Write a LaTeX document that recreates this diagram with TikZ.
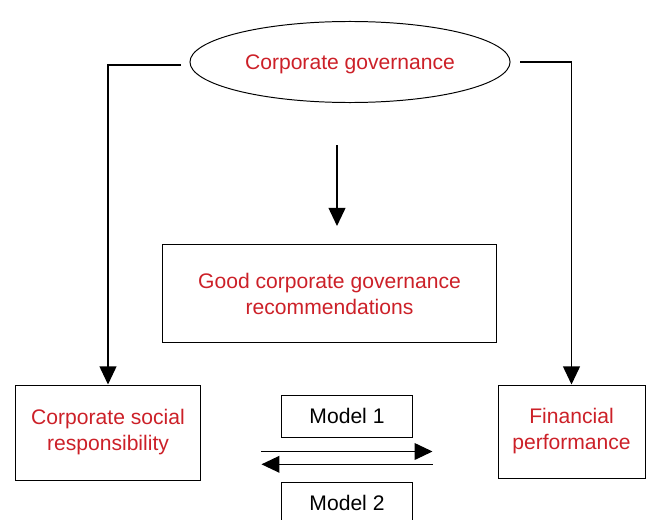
\documentclass[tikz,border=0pt]{standalone}
\usepackage{fontspec}
\setmainfont{Liberation Sans}
\usetikzlibrary{arrows.meta,shapes.geometric}
\definecolor{govred}{RGB}{204,32,40}
\tikzset{
  label/.style={text=govred, font=\fontsize{15}{18.5}\selectfont, align=center},
  box/.style={draw, line width=0.7pt, label},
  arr/.style={line width=0.9pt, -{Triangle[length=0.45cm, width=0.42cm]}}
}
\begin{document}
\begin{tikzpicture}[x=0.025cm, y=-0.025cm]
\useasboundingbox (0,0) rectangle (648,519);
\clip (0,0) rectangle (648,519);
\node[ellipse, box, minimum width=8cm, minimum height=2.025cm] (gov) at (350,62) {\raisebox{-2pt}[\height][\depth]{Corporate governance}};
\node[box, minimum width=8.325cm, minimum height=2.425cm] (rec) at (329.5,293.5) {Good corporate governance\\recommendations};
\node[box, minimum width=4.6cm, minimum height=2.375cm] (csr) at (108,432.5) {Corporate social\\responsibility};
\node[box, minimum width=3.675cm, minimum height=2.325cm] (fin) at (571.5,431.5) {Financial\\performance};
\node[box, text=black, minimum width=3.25cm, minimum height=1.05cm] (m1) at (347,416) {Model 1};
\node[box, text=black, minimum width=3.25cm, minimum height=1.05cm] (m2) at (347,503) {Model 2};
\coordinate (gl) at (181,65);
\coordinate (gr) at (520,62);
\coordinate (down1) at (337,145);
\coordinate (down2) at (337,226);
\draw[arr] (gl) -| (csr.north);
\draw[arr] (gr) -| (fin.north);
\draw[arr] (down1) -- (down2);
\draw[arr] ([xshift=-0.5cm, yshift=-0.35cm]m1.south west) -- ([xshift=0.5cm, yshift=-0.35cm]m1.south east);
\draw[arr] ([xshift=0.5cm, yshift=0.43cm]m2.north east) -- ([xshift=-0.5cm, yshift=0.43cm]m2.north west);
\end{tikzpicture}
\end{document}
